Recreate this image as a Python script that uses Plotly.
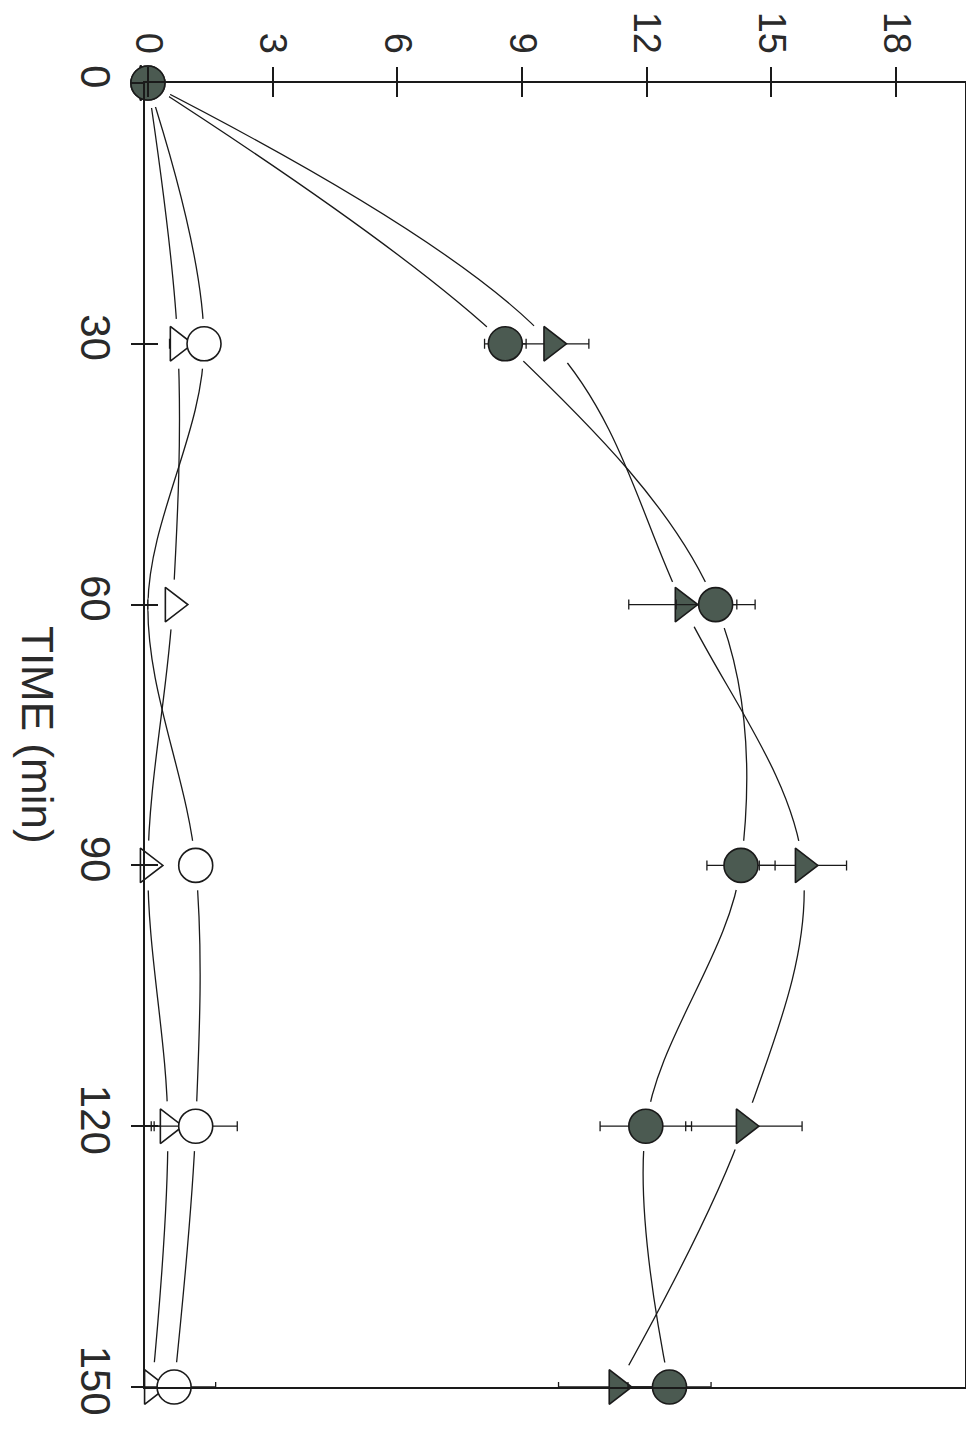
import plotly.graph_objects as go

# time points (min)
time_min = [0, 30, 60, 90, 120, 150]

# filled circle series
fc_val = [0, 8.6, 13.66, 14.27, 11.98, 12.55]
fc_err = [0, 0.5, 0.95, 0.82, 1.1, 1.0]

# filled triangle series
ft_val = [0, 9.71, 12.87, 15.76, 14.34, 11.28]
ft_err = [0, 0.9, 1.3, 1.05, 1.4, 1.4]

# open circle series
oc_val = [0, 1.35, 0.0, 1.15, 1.15, 0.63]
oc_err = [0, 0.3, 0, 0.3, 1.0, 1.0]

# open triangle series
ot_val = [0, 0.72, 0.60, 0.0, 0.48, 0.1]
ot_err = [0, 0.2, 0, 0.2, 0.4, 0.2]

value_ticks = [0, 3, 6, 9, 12, 15, 18]
time_ticks = [0, 30, 60, 90, 120, 150]

FILL = '#4b5a51'
INK = '#1a1a1a'
FONT = 'Liberation Sans'

fig = go.Figure()

# 曲線（スプライン）
for vals in [ot_val, oc_val, ft_val, fc_val]:
    fig.add_trace(go.Scatter(
        x=vals, y=time_min, mode='lines',
        line=dict(color=INK, width=1.3, shape='spline', smoothing=1.0),
        showlegend=False, hoverinfo='skip'
    ))

# マーカー周りの白い余白
oc_hidden = [0 if i == 2 else 1 for i in range(len(time_min))]
mask_x = ot_val + oc_val + ft_val + fc_val
mask_y = time_min * 4
mask_s = [50] * 6 + [50 * h for h in oc_hidden] + [50] * 6 + [50] * 6
fig.add_trace(go.Scatter(
    x=mask_x, y=mask_y, mode='markers',
    marker=dict(symbol='circle', size=mask_s, color='white', opacity=1,
                line=dict(width=0)),
    showlegend=False, hoverinfo='skip', cliponaxis=False
))

def add_series(vals, errs, symbol, size, fill):
    fig.add_trace(go.Scatter(
        x=vals, y=time_min, mode='markers',
        marker=dict(symbol=symbol, size=size, color=fill, opacity=1,
                    line=dict(color=INK, width=1.6)),
        error_x=dict(type='data', array=errs, visible=True,
                     color=INK, thickness=1.3, width=5),
        showlegend=False, cliponaxis=False
    ))

add_series(ot_val, ot_err, 'triangle-right', 30, 'white')
add_series(oc_val, oc_err, 'circle', [34 * h for h in oc_hidden], 'white')
add_series(ft_val, ft_err, 'triangle-right', 30, FILL)
add_series(fc_val, fc_err, 'circle', 34, FILL)

fig.update_layout(
    width=958, height=1415,
    margin=dict(l=137, r=1, t=75, b=36),
    paper_bgcolor='white', plot_bgcolor='white',
    font=dict(family=FONT, color='#2a2a2a', size=42),
    xaxis=dict(
        range=[-0.07, 19.66], side='top', automargin=False,
        tickvals=value_ticks, ticktext=[str(v) for v in value_ticks],
        tickangle=90, ticks='outside', ticklen=14, tickwidth=1.5, tickcolor=INK,
        showline=True, linecolor=INK, linewidth=1.6, mirror=True,
        showgrid=False, zeroline=False, ticklabelstandoff=0,
        tickfont=dict(size=38, family=FONT)
    ),
    xaxis2=dict(
        range=[-0.07, 19.66], overlaying='x', side='top', automargin=False,
        tickvals=value_ticks, showticklabels=False,
        ticks='inside', ticklen=14, tickwidth=1.5, tickcolor=INK,
        showgrid=False, zeroline=False
    ),
    yaxis=dict(
        range=[150, 0], automargin=False,
        tickvals=time_ticks, ticktext=[str(t) for t in time_ticks],
        tickangle=90, ticks='outside', ticklen=12, tickwidth=1.5, tickcolor=INK,
        showline=True, linecolor=INK, linewidth=1.6, mirror=True,
        showgrid=False, zeroline=False, ticklabelstandoff=0,
        tickfont=dict(size=42, family=FONT)
    ),
    yaxis2=dict(
        range=[150, 0], overlaying='y', side='left', anchor='x', automargin=False,
        tickvals=time_ticks, showticklabels=False,
        ticks='inside', ticklen=13, tickwidth=1.5, tickcolor=INK,
        showgrid=False, zeroline=False
    ),
    annotations=[dict(
        text='TIME (min)', textangle=90,
        xref='paper', yref='paper', x=0, y=0.5,
        xshift=-107, xanchor='center', yanchor='middle',
        showarrow=False, font=dict(size=44, family=FONT, color='#2a2a2a')
    )]
)

# inner-tick axes need a trace to be drawn
fig.add_trace(go.Scatter(x=[None], y=[None], xaxis='x2', yaxis='y', showlegend=False))
fig.add_trace(go.Scatter(x=[None], y=[None], xaxis='x', yaxis='y2', showlegend=False))

fig.write_html("out.html")
